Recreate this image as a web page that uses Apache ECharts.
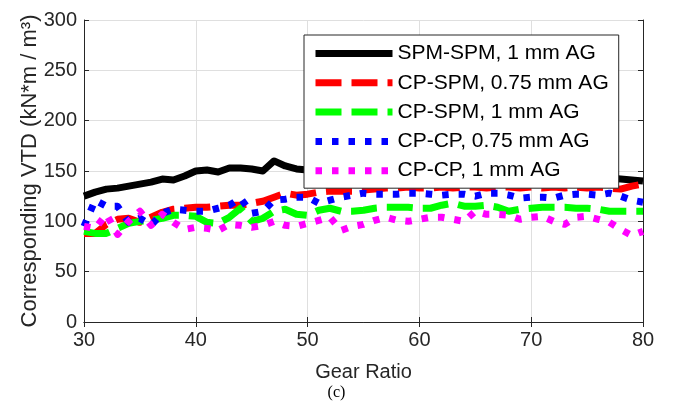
<!DOCTYPE html>
<html><head><meta charset="utf-8">
<script src="https://cdn.jsdelivr.net/npm/echarts@6/dist/echarts.min.js"></script>
<style>html,body{margin:0;padding:0;background:#fff}#c{width:673px;height:408px}</style>
</head><body><div id="c"></div>
<script>
const gearRatio = [30,31,32,33,34,35,36,37,38,39,40,41,42,43,44,45,46,47,48,49,50,51,52,53,54,55,56,57,58,59,60,61,62,63,64,65,66,67,68,69,70,71,72,73,74,75,76,77,78,79,80];
const spmSpm1 = [125,129,132,133,135,137,139,142,141,145,150,151,149,153,153,152,150,160,155,152,151,150,149,148,150,149,148,147,149,148,147,146,148,147,146,145,147,146,145,144,146,145,144,143,144,143,142,143,142,141,140];
const cpSpm075 = [88,88,97,102,103,99,104,109,112,113,114,114,115,116,116,118,120,124,128,126,127,129,130,130,130,131,132,133,133,134,133,133,134,133,134,134,133,134,134,133,134,133,134,133,134,133,134,133,132,135,137];
const cpSpm1 = [90,88,88,93,98,100,101,103,106,106,105,99,98,104,113,100,103,110,112,107,106,111,113,110,110,111,113,114,114,114,113,113,116,118,115,115,116,114,110,112,113,114,114,114,113,113,112,110,110,110,110];
const cpCp075 = [95,121,115,115,99,103,96,108,112,111,110,110,113,116,123,108,110,121,122,124,124,118,121,124,126,128,127,127,127,128,128,127,126,127,127,125,128,128,126,123,124,124,123,126,127,127,126,128,125,121,119];
const cpCp1 = [95,93,107,87,100,110,96,107,99,92,94,93,91,97,96,94,96,100,96,95,98,101,104,91,95,97,101,104,101,100,102,104,104,102,100,110,107,107,106,102,104,105,100,97,104,105,102,99,92,86,90];
const seriesNames = ['SPM-SPM, 1 mm AG','CP-SPM, 0.75 mm AG','CP-SPM, 1 mm AG','CP-CP, 0.75 mm AG','CP-CP, 1 mm AG'];
const yTicks = [0,50,100,150,200,250,300];
const xTicks = [30,40,50,60,70,80];

const seriesData = [spmSpm1, cpSpm075, cpSpm1, cpCp075, cpCp1];
const colors = ['#000000','#ff0000','#00ff00','#0000ff','#ff00ff'];
const dashes = ['solid',[26,10],[26,10],[6.5,10],[6.5,10]];
const FONT = 'Liberation Sans';
const axisCol = '#262626';

const chart = echarts.init(document.getElementById('c'), null, {renderer:'canvas'});
const mkAxisCommon = {
  axisLine:{show:true,lineStyle:{color:axisCol,width:1}},
  axisTick:{show:true,inside:true,length:5,lineStyle:{color:axisCol}},
};
chart.setOption({
  animation:false,
  backgroundColor:'#fff',
  grid:{left:84,right:30,top:20,bottom:86,show:false},
  xAxis:[
    Object.assign({type:'value',min:xTicks[0],max:xTicks[xTicks.length-1],interval:10,position:'bottom',
      name:'Gear Ratio',nameLocation:'middle',nameGap:40,nameMoveOverlap:false,
      nameTextStyle:{fontFamily:FONT,fontSize:20,color:axisCol},
      axisLabel:{fontFamily:FONT,fontSize:20,color:axisCol,margin:8},
      splitLine:{show:true,lineStyle:{color:'#dfdfdf',width:1}}},mkAxisCommon),
    Object.assign({type:'value',min:xTicks[0],max:xTicks[xTicks.length-1],interval:10,position:'top',
      axisLabel:{show:false},splitLine:{show:false}},mkAxisCommon)
  ],
  yAxis:[
    Object.assign({type:'value',min:yTicks[0],max:yTicks[yTicks.length-1],interval:50,position:'left',
      name:'Corresponding VTD (kN*m / m³)',nameLocation:'middle',nameGap:43,nameMoveOverlap:false,
      nameTextStyle:{fontFamily:FONT,fontSize:22,color:axisCol},
      axisLabel:{fontFamily:FONT,fontSize:20,color:axisCol,margin:7},
      splitLine:{show:true,lineStyle:{color:'#dfdfdf',width:1}}},mkAxisCommon),
    Object.assign({type:'value',min:yTicks[0],max:yTicks[yTicks.length-1],interval:50,position:'right',
      axisLabel:{show:false},splitLine:{show:false}},mkAxisCommon)
  ],
  legend:{
    show:true,orient:'vertical',left:304,top:35,
    backgroundColor:'#ffffff',borderColor:axisCol,borderWidth:1,
    padding:[8,10,7,8],itemGap:8.3,itemWidth:77,itemHeight:21,
    itemStyle:{opacity:0},
    lineStyle:{width:7},
    textStyle:{fontFamily:FONT,fontSize:21,color:'#000'},
    data:seriesNames,z:10
  },
  series: seriesNames.map((n,i)=>({
    name:n,type:'line',xAxisIndex:0,yAxisIndex:0,
    data: gearRatio.map((g,j)=>[g,seriesData[i][j]]),
    symbol:'none',showSymbol:false,
    lineStyle:{color:colors[i],width:7,type:dashes[i],cap:'butt',join:'round'},
    itemStyle:{color:colors[i]},
    z:2+i
  })),
  graphic:[{type:'text',left:'center',top:385,style:{text:'(c)',fontFamily:'Liberation Serif',fontSize:16,fill:'#000'}}]
});
</script></body></html>
